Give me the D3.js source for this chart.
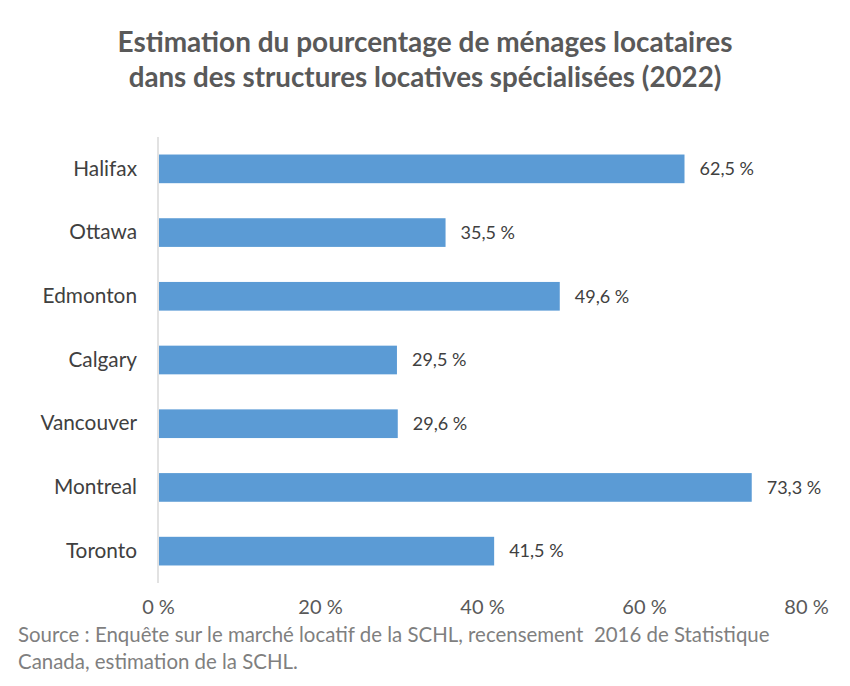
<!DOCTYPE html>
<html><head><meta charset="utf-8">
<script src="https://cdn.jsdelivr.net/npm/d3@7"></script>
<style>body{margin:0;background:#fff}svg{display:block}</style>
</head><body>
<svg id="c" width="850" height="686"></svg>
<script>
const categories = ["Halifax","Ottawa","Edmonton","Calgary","Vancouver","Montreal","Toronto"];
const barValues = [65.0, 35.5, 49.6, 29.5, 29.6, 73.3, 41.5];
const valueLabels = ["62,5 %","35,5 %","49,6 %","29,5 %","29,6 %","73,3 %","41,5 %"];
const xTicks = [0, 20, 40, 60, 80];
const titleLines = ["Estimation du pourcentage de ménages locataires","dans des structures locatives spécialisées (2022)"];
const sourceLines = ["Source : Enquête sur le marché locatif de la SCHL, recensement  2016 de Statistique","Canada, estimation de la SCHL."];

const svg = d3.select("#c");
const font = "Lato, 'Open Sans', sans-serif";
const x = d3.scaleLinear().domain([0,80]).range([158,806]);
const y = d3.scaleBand().domain(categories).range([137,583]).paddingInner(0.55).paddingOuter(0.275);

function fitSize(node, baseSize, w){ return baseSize * w / node.getComputedTextLength(); }

// title
const titles = svg.selectAll("text.title").data(titleLines).join("text").attr("class","title")
  .attr("x",425).attr("y",(d,i)=>52+i*35).attr("text-anchor","middle")
  .style("font-family",font).style("font-weight","bold").style("font-size","26px").style("fill","#595959")
  .text(d=>d);
const titleWidths = [615, 593];
titles.each(function(d,i){ d3.select(this).style("font-size", fitSize(this,26,titleWidths[i])+"px"); });

// bars
svg.selectAll("rect.bar").data(categories).join("rect").attr("class","bar")
  .attr("x",x(0)+1).attr("y",d=>y(d)).attr("height",y.bandwidth())
  .attr("width",(d,i)=>x(barValues[i])-x(0)-1).attr("fill","#5b9bd5");

// axis line
svg.append("line").attr("x1",x(0)).attr("x2",x(0)).attr("y1",137).attr("y2",583)
  .attr("stroke","#d9d9d9").attr("stroke-width",1.5);

// category labels
const gy = svg.append("g").attr("transform",`translate(${x(0)},0)`)
  .call(d3.axisLeft(y).tickSize(0).tickPadding(21));
gy.select(".domain").remove();
gy.selectAll("text").style("font-family",font).style("font-size","20.8px").style("fill","#404040");

// value labels
svg.selectAll("text.val").data(categories).join("text").attr("class","val")
  .attr("x",(d,i)=>x(barValues[i])+15).attr("y",d=>y(d)+y.bandwidth()/2).attr("dy","0.35em")
  .style("font-family",font).style("font-size","18px").style("fill","#404040")
  .text((d,i)=>valueLabels[i]);

// x axis labels
const gx = svg.append("g").attr("transform","translate(0,600)")
  .call(d3.axisBottom(x).tickValues(xTicks).tickSize(0).tickPadding(0).tickFormat(d=>d+" %"));
gx.select(".domain").remove();
gx.selectAll("text").attr("dy","0.71em").style("font-family",font).style("font-size","20px").style("fill","#595959");

// source
const src = svg.selectAll("text.src").data(sourceLines).join("text").attr("class","src")
  .attr("x",18).attr("y",(d,i)=>642+i*27)
  .style("font-family",font).style("font-size","17.5px").style("fill","#7f7f7f").style("white-space","pre")
  .attr("xml:space","preserve").text(d=>d);
const srcSize = fitSize(src.nodes()[0], 17.5, 752);
src.style("font-size", srcSize+"px");
</script>
</body></html>
